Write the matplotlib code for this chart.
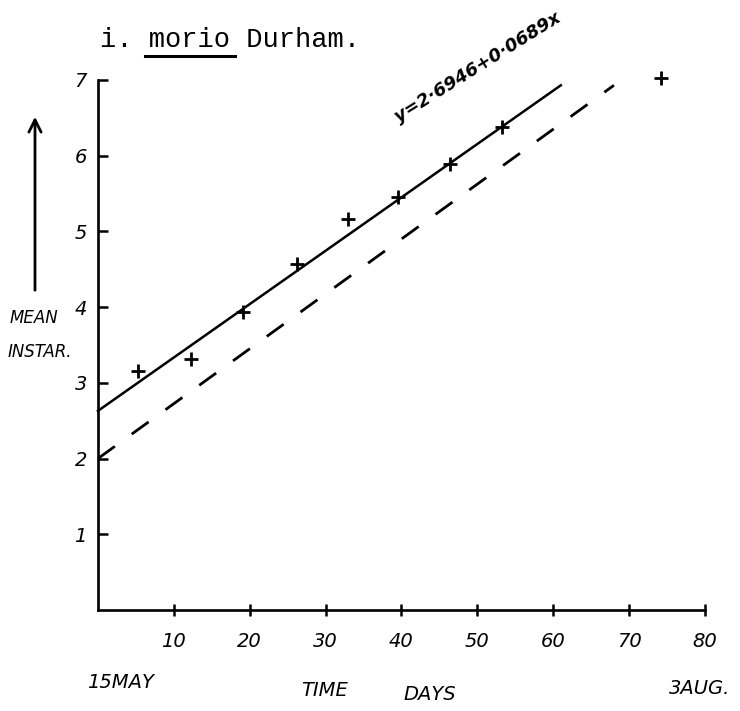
import numpy as np
import matplotlib.pyplot as plt

# mean instar against days from 15 May
days = [5.3, 12.2, 19.1, 26.2, 32.9, 39.6, 46.4, 53.3, 74.2]
instar = [3.16, 3.32, 3.93, 4.57, 5.17, 5.45, 5.89, 6.38, 7.03]

# fitted line and the dashed line as drawn
fit_x = [0, 61]
fit_y = [2.63, 6.93]
dash_x = [0, 68]
dash_y = [2.0, 6.93]

xticks = [10, 20, 30, 40, 50, 60, 70, 80]
yticks = [1, 2, 3, 4, 5, 6, 7]

hand = dict(family='DejaVu Sans', style='italic')

fig = plt.figure(figsize=(7.4, 7.11), dpi=100)
ax = fig.add_axes([0.1324, 0.1421, 0.8203, 0.7454])

ax.plot(fit_x, fit_y, color='black', lw=1.8, clip_on=False)
ax.plot(dash_x, dash_y, color='black', lw=2, linestyle=(0, (7.5, 7.5)), clip_on=False)
ax.plot(days, instar, linestyle='none', marker='+', color='black',
        markersize=10, mew=2, clip_on=False)

ax.set_xlim(0, 80)
ax.set_ylim(0, 7)
for s in ['top', 'right']:
    ax.spines[s].set_visible(False)
for s in ['left', 'bottom']:
    ax.spines[s].set_linewidth(1.9)

ax.set_xticks(xticks)
ax.set_yticks(yticks)
ax.set_xticklabels([str(t) for t in xticks], fontsize=14, **hand)
ax.set_yticklabels([str(t) for t in yticks], fontsize=14, **hand)
ax.tick_params(axis='x', direction='inout', length=8, width=1.8, pad=12)
ax.tick_params(axis='y', direction='in', length=7, width=1.8, pad=8)

# equation along the fitted line
ax.text(50, 7.16, 'y=2·6946+0·0689x', rotation=32, ha='center', va='center',
        fontsize=13, fontweight='bold', clip_on=False, **hand)

# title, typewriter style
fig.text(100/740, 1 - 47/711, 'i. morio Durham.', family='Liberation Mono',
         fontsize=19.5, ha='left', va='baseline')
fig.add_artist(plt.Line2D([145/740, 235/740], [1 - 56/711, 1 - 56/711],
                          color='black', lw=2.2))

# y axis label with arrow
ax.annotate('', xy=(35/740, 1 - 114/711), xytext=(35/740, 1 - 293/711),
            xycoords='figure fraction', textcoords='figure fraction',
            arrowprops=dict(arrowstyle='->', lw=2, color='black', mutation_scale=22))
fig.text(10/740, 1 - 318/711, 'MEAN', fontsize=12, ha='left', va='center', **hand)
fig.text(8/740, 1 - 352/711, 'INSTAR.', fontsize=12, ha='left', va='center', **hand)

# x axis labels
fig.text(120/740, 1 - 683/711, '15MAY', fontsize=14, ha='center', va='center', **hand)
fig.text(325/740, 1 - 690/711, 'TIME', fontsize=14, ha='center', va='center', **hand)
fig.text(430/740, 1 - 695/711, 'DAYS', fontsize=14, ha='center', va='center', **hand)
fig.text(700/740, 1 - 688/711, '3AUG.', fontsize=14, ha='center', va='center', **hand)

fig.savefig('out.png', dpi=100)
